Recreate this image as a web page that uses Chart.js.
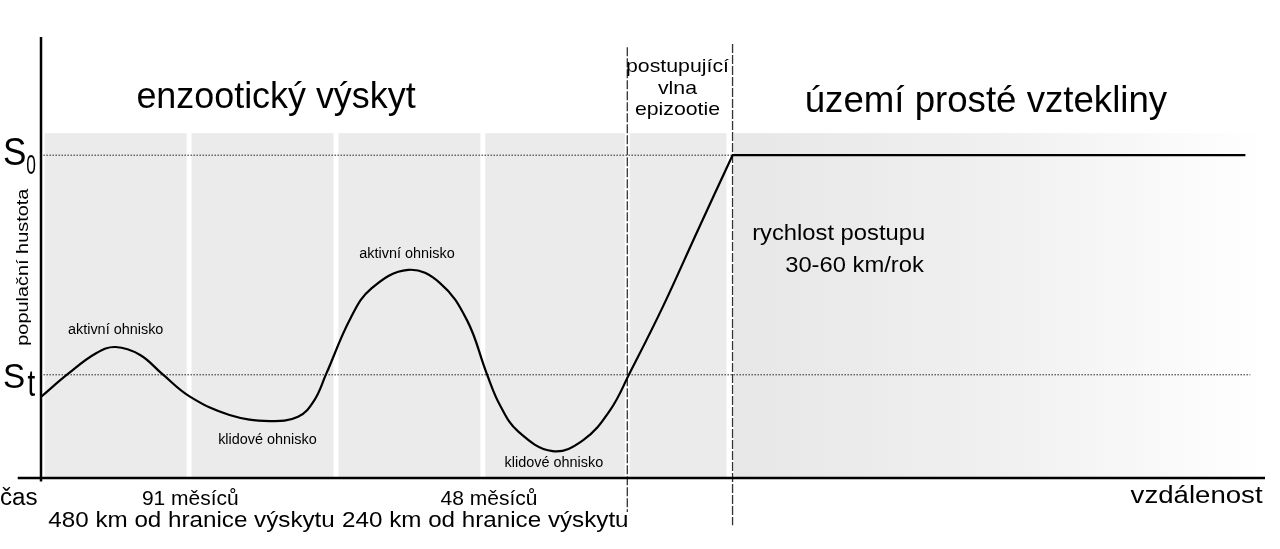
<!DOCTYPE html>
<html lang="cs">

<head>
    <meta charset="UTF-8">
    <title>Populační hustota a vzteklina</title>
    <script src="https://cdn.jsdelivr.net/npm/chart.js"></script>
    <style>
        body { margin: 0; background: #fff; }
        #wrap { width: 1280px; height: 549px; }
    </style>
</head>

<body>
    <div id="wrap">
        <canvas id="myChart" width="1280" height="549"></canvas>
    </div>

    <script>
// křivka populační hustoty (x = vzdálenost, y = hustota, v % os)
const curveX = [0, 2.2, 4.5, 6.1, 8.1, 9.9, 12.2, 15.4, 18.7, 21.0, 22.3, 23.3, 25.3, 27.0, 30.0,
    32.6, 34.8, 36.4, 37.5, 39.0, 41.8, 44.3, 46.5, 48.1, 50.8, 53.6, 56.5];
const curveY = [18.4, 23.6, 28.3, 29.7, 27.9, 23.6, 18.4, 14.3, 12.9, 13.9, 17.5, 23.6, 36.3, 43.0, 47.2,
    44.2, 35.8, 23.8, 16.5, 10.5, 6.1, 8.6, 15.4, 23.8, 38.8, 55.8, 73.2];

// území prosté vztekliny - rovná čára na S0
const plateauX = [56.5, 98.4];
const plateauY = [73.2, 73.2];

// hladiny S0 a St
const levelS0 = 73.2;
const levelSt = 23.4;

// šedé pruhy (začátek, konec) a hranice vlny epizootie
const bandStart = [0.3, 12.3, 24.3, 36.3, 48.1];
const bandEnd = [11.9, 23.9, 35.9, 47.7, 56.0];
const bandTop = 78.2;
const fadeStart = 56.6;
const waveEdges = [47.9, 56.5];

const FONT = '"Liberation Sans", Arial, sans-serif';

function toPoints(xs, ys) {
    return xs.map((x, i) => ({ x: x, y: ys[i] }));
}

// text s vodorovným roztažením
function label(ctx, text, x, y, size, align, sx, rot) {
    ctx.save();
    ctx.translate(x, y);
    if (rot) ctx.rotate(rot);
    ctx.scale(sx || 1, 1);
    ctx.font = size + 'px ' + FONT;
    ctx.fillStyle = '#000';
    ctx.textAlign = align || 'left';
    ctx.textBaseline = 'alphabetic';
    ctx.fillText(text, 0, 0);
    ctx.restore();
}

const backgroundPlugin = {
    id: 'background',
    beforeDatasetsDraw(chart) {
        const ctx = chart.ctx;
        const xs = chart.scales.x, ys = chart.scales.y;
        const X = v => xs.getPixelForValue(v);
        const Y = v => ys.getPixelForValue(v);
        ctx.save();

        // pruhy
        ctx.fillStyle = '#ebebeb';
        bandStart.forEach((s, i) => {
            ctx.fillRect(X(s), Y(bandTop), X(bandEnd[i]) - X(s), Y(0) - Y(bandTop));
        });
        const grad = ctx.createLinearGradient(X(fadeStart), 0, X(100), 0);
        grad.addColorStop(0, '#e7e7e7');
        grad.addColorStop(0.5, '#f0f0f0');
        grad.addColorStop(1, '#ffffff');
        ctx.fillStyle = grad;
        ctx.fillRect(X(fadeStart), Y(bandTop), X(100) - X(fadeStart), Y(0) - Y(bandTop));

        // tečkované hladiny
        ctx.strokeStyle = '#222';
        ctx.lineWidth = 1;
        ctx.setLineDash([1.5, 1.5]);
        ctx.beginPath();
        ctx.moveTo(X(0.2), Y(levelS0));
        ctx.lineTo(X(98.4), Y(levelS0));
        ctx.moveTo(X(0.2), Y(levelSt));
        ctx.lineTo(X(98.8), Y(levelSt));
        ctx.stroke();

        // čárkované hranice vlny
        ctx.strokeStyle = '#333';
        ctx.lineWidth = 1.3;
        ctx.setLineDash([9, 2]);
        ctx.beginPath();
        ctx.moveTo(X(waveEdges[0]), Y(97.7));
        ctx.lineTo(X(waveEdges[0]), Y(-7.7));
        ctx.moveTo(X(waveEdges[1]), Y(98.4));
        ctx.lineTo(X(waveEdges[1]), Y(-10.7));
        ctx.stroke();
        ctx.restore();
    },
    afterDatasetsDraw(chart) {
        const ctx = chart.ctx;
        const xs = chart.scales.x, ys = chart.scales.y;
        const X = v => xs.getPixelForValue(v);
        const Y = v => ys.getPixelForValue(v);
        ctx.save();

        // osy
        ctx.strokeStyle = '#000';
        ctx.lineWidth = 2.5;
        ctx.beginPath();
        ctx.moveTo(X(0), Y(100));
        ctx.lineTo(X(0), Y(-0.8));
        ctx.moveTo(X(-1.9), Y(0));
        ctx.lineTo(X(100), Y(0));
        ctx.stroke();

        // nadpisy
        label(ctx, 'enzootický výskyt', X(19.2), Y(83.9), 37, 'center', 0.97);
        label(ctx, 'území prosté vztekliny', X(77.2), Y(83.0), 37, 'center', 0.99);
        label(ctx, 'postupující', X(52.0), Y(92.1), 19, 'center', 1.12);
        label(ctx, 'vlna', X(52.0), Y(87.1), 19, 'center', 1.12);
        label(ctx, 'epizootie', X(52.0), Y(82.3), 19, 'center', 1.12);

        // popisky ohnisek
        label(ctx, 'aktivní ohnisko', X(6.1), Y(32.7), 14, 'center', 1.03);
        label(ctx, 'aktivní ohnisko', X(29.9), Y(49.9), 14, 'center', 1.03);
        label(ctx, 'klidové ohnisko', X(18.5), Y(7.7), 14, 'center', 1.03);
        label(ctx, 'klidové ohnisko', X(41.9), Y(2.5), 14, 'center', 1.03);

        label(ctx, 'rychlost postupu', X(58.1), Y(54.0), 22, 'left', 1.08);
        label(ctx, '30-60 km/rok', X(60.8), Y(46.7), 22, 'left', 1.08);

        // S0 a St
        label(ctx, 'S', X(-3.1), Y(71.0), 39, 'left', 0.9);
        label(ctx, '0', X(-1.2), Y(69.0), 28, 'left', 0.62);
        label(ctx, 'S', X(-3.1), Y(20.4), 35, 'left', 0.95);
        label(ctx, 't', X(-1.1), Y(18.6), 37, 'left', 0.75);
        label(ctx, 'populační hustota', X(-1.1), Y(47.8), 17, 'center', 1.17, -Math.PI / 2);

        // popisky pod osou
        label(ctx, 'čas', X(-3.35), Y(-6.1), 23, 'left', 1.05);
        label(ctx, '91 měsíců', X(12.2), Y(-6.1), 21, 'center', 1.0);
        label(ctx, '48 měsíců', X(36.6), Y(-6.1), 21, 'center', 1.0);
        label(ctx, '480 km od hranice výskytu', X(12.3), Y(-11.1), 22, 'center', 1.1);
        label(ctx, '240 km od hranice výskytu', X(36.3), Y(-11.1), 22, 'center', 1.1);
        label(ctx, 'vzdálenost', X(99.8), Y(-5.7), 23, 'right', 1.2);
        ctx.restore();
    }
};

const ctx = document.getElementById('myChart').getContext('2d');
new Chart(ctx, {
    type: 'line',
    data: {
        datasets: [
            {
                label: 'enzootický výskyt',
                data: toPoints(curveX, curveY),
                borderColor: '#000',
                borderWidth: 2.2,
                pointRadius: 0,
                tension: 0.4,
                fill: false
            },
            {
                label: 'území prosté vztekliny',
                data: toPoints(plateauX, plateauY),
                borderColor: '#000',
                borderWidth: 2.2,
                pointRadius: 0,
                tension: 0,
                fill: false
            }
        ]
    },
    options: {
        responsive: false,
        animation: false,
        layout: { padding: { left: 41, top: 37, right: 15, bottom: 71 } },
        scales: {
            x: { type: 'linear', min: 0, max: 100, display: false },
            y: { min: 0, max: 100, display: false }
        },
        plugins: {
            legend: { display: false },
            tooltip: { enabled: false }
        }
    },
    plugins: [backgroundPlugin]
});
    </script>
</body>

</html>
